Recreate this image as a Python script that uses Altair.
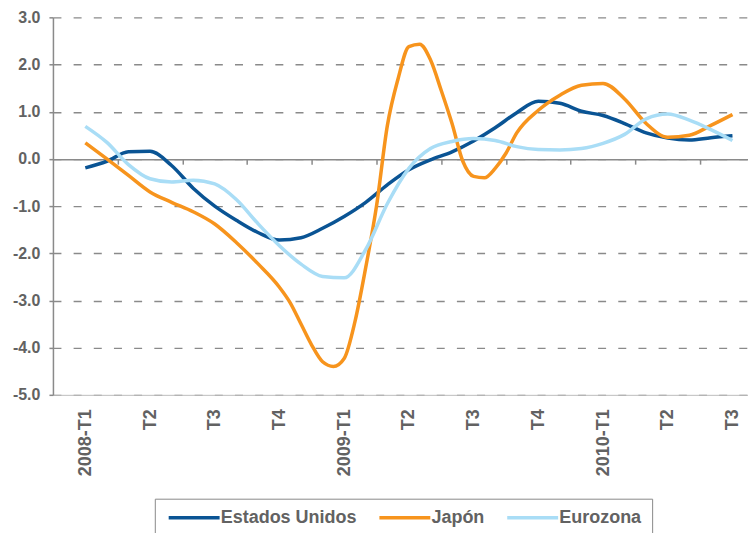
import altair as alt
import pandas as pd

# ---- data ----
QUARTER_LABELS = ["2008-T1", "T2", "T3", "T4", "2009-T1", "T2", "T3", "T4", "2010-T1", "T2", "T3"]
SERIES = ["Estados Unidos", "Japón", "Eurozona"]
COLORS = ["#0a5494", "#f7941d", "#a9ddf6"]

# positions are in months since the start of 2008-T1 (3 months per quarter)
us_months = list(range(31))
us_values = [-0.19, -0.05, 0.15, 0.16, -0.14, -0.62, -1.00, -1.30, -1.56, -1.72,
             -1.67, -1.47, -1.22, -0.92, -0.55, -0.23, -0.02, 0.15, 0.38, 0.66,
             0.98, 1.22, 1.18, 1.01, 0.92, 0.75, 0.55, 0.44, 0.40, 0.45, 0.49]

jp_months = [0, 1, 2, 3, 4, 5, 6, 7, 8, 9, 9.5, 10, 10.5, 11, 11.5, 12, 12.5, 13, 13.5,
             14, 14.5, 15, 15.5, 16, 16.5, 17, 17.5, 18, 18.5, 19, 19.5, 20, 21, 22,
             23, 24, 25, 26, 27, 28, 29, 30]
jp_values = [0.34, 0.00, -0.35, -0.70, -0.92, -1.12, -1.38, -1.77, -2.22, -2.72, -3.05,
             -3.50, -3.95, -4.30, -4.40, -4.23, -3.45, -2.30, -1.00, 0.70, 1.70, 2.38,
             2.43, 2.10, 1.45, 0.75, -0.05, -0.37, -0.40, -0.20, 0.12, 0.55, 1.03,
             1.35, 1.56, 1.60, 1.27, 0.75, 0.46, 0.50, 0.71, 0.94]

ez_months = list(range(31))
ez_values = [0.69, 0.35, -0.12, -0.42, -0.49, -0.45, -0.53, -0.86, -1.37, -1.84,
             -2.23, -2.49, -2.52, -1.92, -0.95, -0.20, 0.22, 0.37, 0.43, 0.39,
             0.26, 0.20, 0.19, 0.22, 0.33, 0.52, 0.85, 0.95, 0.82, 0.62, 0.39]

Y_TICKS = [-5, -4, -3, -2, -1, 0, 1, 2, 3]
LABEL_POS = [3 * i for i in range(len(QUARTER_LABELS))]
BOUNDARIES = [3 * i + 1.5 for i in range(10)]

rows = []
for name, ms, vs in [(SERIES[0], us_months, us_values),
                     (SERIES[1], jp_months, jp_values),
                     (SERIES[2], ez_months, ez_values)]:
    for m, v in zip(ms, vs):
        rows.append({"series": name, "month": m, "value": v})
df = pd.DataFrame(rows)

# ---- styling ----
GRAY = "#8a8a8a"
TXT = "#626262"
FONT = "Liberation Sans, Arial, sans-serif"

W, H = 696, 378
x_scale = alt.Scale(domain=[-1.5, 30.72], nice=False, zero=False)
y_scale = alt.Scale(domain=[-5, 3], nice=False, zero=False)
zero_offset = -round(H * 5 / 8)

label_expr = "[" + ",".join("'%s'" % t for t in QUARTER_LABELS) + "][round(datum.value / 3)]"

base = alt.Chart(df)

lines = base.mark_line(strokeWidth=3.5, interpolate="monotone").encode(
    x=alt.X("month:Q", scale=x_scale,
            axis=alt.Axis(orient="bottom", offset=zero_offset, values=BOUNDARIES,
                          labels=False, ticks=True, tickSize=5, tickColor=GRAY,
                          tickWidth=1.5, domainColor=GRAY, domainWidth=1.5,
                          grid=False, title=None)),
    y=alt.Y("value:Q", scale=y_scale,
            axis=alt.Axis(values=Y_TICKS, grid=True, gridDash=[8, 12.2], gridColor=GRAY,
                          gridWidth=1.4, domainColor=GRAY, domainWidth=1.5,
                          tickColor=GRAY, tickSize=4, tickWidth=1.5,
                          labelFont=FONT, labelFontSize=16, labelFontWeight="bold",
                          labelColor=TXT, labelPadding=9, title=None,
                          labelExpr="(datum.value < 0 ? '-' : '') + format(abs(datum.value), '.1f')")),
    color=alt.Color("series:N", scale=alt.Scale(domain=SERIES, range=COLORS),
                    legend=alt.Legend(orient="none", legendX=102, legendY=482,
                                      direction="horizontal", title=None,
                                      symbolType="M-1,0H9", symbolSize=104,
                                      symbolStrokeWidth=3.5, labelFont=FONT,
                                      labelFontSize=18, labelFontWeight="bold",
                                      labelColor=TXT, labelOffset=38, columnPadding=14,
                                      labelLimit=400, padding=10, strokeColor=GRAY,
                                      fillColor="white")),
    order=alt.Order("month:Q"),
)

label_layer = base.mark_line(strokeOpacity=0).encode(
    x=alt.X("month:Q", scale=x_scale,
            axis=alt.Axis(orient="bottom", values=LABEL_POS, labelExpr=label_expr,
                          labelAngle=270, labelFont=FONT, labelFontSize=18,
                          labelFontWeight="bold", labelColor=TXT, labelPadding=14,
                          ticks=False, tickSize=0, domainColor="#bdbdbd", domainWidth=1,
                          grid=False, title=None, labelOverlap=False)),
    y=alt.Y("value:Q", scale=y_scale, axis=None),
    detail="series:N",
)

chart = alt.layer(label_layer, lines).resolve_axis(x="independent", y="independent").properties(
    width=W, height=H,
    padding={"left": 45, "top": 9, "right": 0, "bottom": 138},
    autosize=alt.AutoSizeParams(type="none"),
    background="white",
).configure_view(stroke=None)

chart.save("out.html", embed_options={"renderer": "svg", "actions": False})
